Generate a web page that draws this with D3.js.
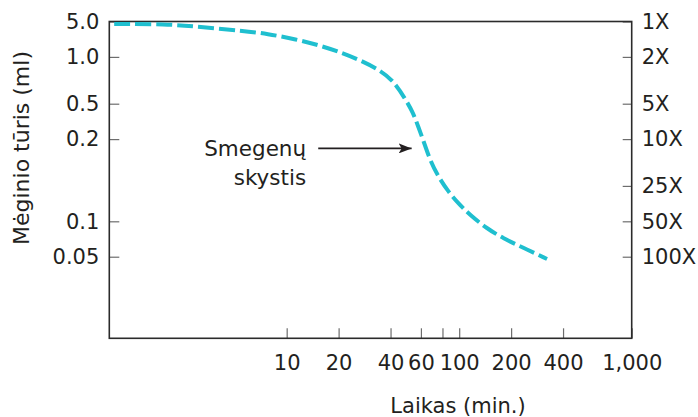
<!DOCTYPE html>
<html>
<head>
<meta charset="utf-8">
<script src="https://cdn.jsdelivr.net/npm/d3@7"></script>
<style>
  html, body { margin: 0; padding: 0; background: #fff; }
  svg { display: block; }
  text { font-family: "DejaVu Sans", Verdana, sans-serif; fill: #231f20; }
</style>
</head>
<body>
<svg id="chart" width="698" height="417"></svg>
<script>
// ---- data ----
// time (min) along the curve
const timeMin = [1, 2, 3.1, 5.6, 7.7, 11.4, 15.6, 20.4, 26.6, 34.7, 41.5, 48.5, 54.2, 57.9, 61.9, 67.7, 75.7, 86.5, 98.9, 115.5, 144, 180, 235, 323];
// concentration factor (right axis, X)
const factor = [1.05, 1.05, 1.11, 1.2, 1.27, 1.42, 1.6, 1.82, 2.13, 2.59, 3.19, 4.5, 6.0, 7.85, 10.2, 15.1, 20.9, 28, 35.2, 44.2, 57.3, 69.8, 83.9, 104.6];

const xTickValues = [10, 20, 40, 60, 80, 100, 200, 400, 1000];
const xTickLabels = ["10", "20", "40", "60", "", "100", "200", "400", "1,000"];
const leftTickValues = [1, 2, 5, 10, 50, 100];
const leftTickLabels = ["5.0", "1.0", "0.5", "0.2", "0.1", "0.05"];
const rightTickValues = [1, 2, 5, 10, 25, 50, 100];
const rightTickLabels = ["1X", "2X", "5X", "10X", "25X", "50X", "100X"];

const xTitle = "Laikas (min.)";
const yTitle = "Mėginio tūris (ml)";
const annotationLines = ["Smegenų", "skystis"];
const annotationTip = { t: 53, f: 12 };

// ---- layout ----
const margin = { left: 109.3, top: 21.5 };
const W = 522.4, H = 316.8;
const svg = d3.select("#chart");
const g = svg.append("g").attr("transform", `translate(${margin.left},${margin.top})`);

const x = d3.scaleLog().domain([0.937, 1000]).range([0, W]);
const y = d3.scaleLog().domain([1, 494]).range([0, H]);

const fs = 21;

// axes
const bottomAxis = d3.axisBottom(x)
  .tickValues(xTickValues)
  .tickFormat((d, i) => xTickLabels[i])
  .tickSizeInner(-10).tickSizeOuter(0).tickPadding(17);
const leftAxis = d3.axisLeft(y)
  .tickValues(leftTickValues)
  .tickFormat((d, i) => leftTickLabels[i])
  .tickSizeInner(-10).tickSizeOuter(0).tickPadding(10);
const rightAxis = d3.axisRight(y)
  .tickValues(rightTickValues)
  .tickFormat((d, i) => rightTickLabels[i])
  .tickSizeInner(-9).tickSizeOuter(0).tickPadding(10);

function styleAxis(sel) {
  sel.select(".domain").remove();
  sel.selectAll(".tick line").attr("stroke", "#6d6d6d").attr("stroke-width", 1.2);
  sel.selectAll(".tick text").attr("font-size", fs).style("font-family", '"DejaVu Sans", Verdana, sans-serif').attr("fill", "#231f20");
}

g.append("g").attr("transform", `translate(0,${H})`).call(bottomAxis).call(styleAxis);
g.append("g").call(leftAxis).call(styleAxis);
g.append("g").attr("transform", `translate(${W},0)`).call(rightAxis).call(styleAxis);

// frame
g.append("rect").attr("x", 0).attr("y", 0).attr("width", W).attr("height", H)
  .attr("fill", "none").attr("stroke", "#2b2b2b").attr("stroke-width", 1.6);

// curve
const pts = timeMin.map((t, i) => [t, factor[i]]);
const line = d3.line().x(d => x(d[0])).y(d => y(d[1])).curve(d3.curveBasis);
g.append("path").datum(pts).attr("d", line)
  .attr("fill", "none").attr("stroke", "#1fbfcf").attr("stroke-width", 4)
  .attr("stroke-dasharray", "16,5");

// annotation
const tipX = x(annotationTip.t), tipY = y(annotationTip.f);
svg.append("defs").append("marker").attr("id", "arr")
  .attr("viewBox", "0 0 13 10").attr("refX", 13).attr("refY", 5)
  .attr("markerWidth", 13).attr("markerHeight", 10).attr("markerUnits", "userSpaceOnUse")
  .attr("orient", "auto")
  .append("path").attr("d", "M0,0 L13,5 L0,10 L3,5 Z").attr("fill", "#231f20");
g.append("line").attr("x1", tipX - 93.4).attr("x2", tipX).attr("y1", tipY).attr("y2", tipY)
  .attr("stroke", "#231f20").attr("stroke-width", 1.6).attr("marker-end", "url(#arr)");
const ann = g.append("text").attr("text-anchor", "end").attr("font-size", fs + 0.5);
annotationLines.forEach((s, i) => {
  ann.append("tspan").attr("x", tipX - 105.5).attr("y", tipY + 7.5 + i * 29.5).text(s);
});

// titles
svg.append("text").attr("x", 458).attr("y", 412.7).attr("text-anchor", "middle")
  .attr("font-size", fs).text(xTitle);
svg.append("text").attr("transform", "translate(29,148) rotate(-90)")
  .attr("text-anchor", "middle").attr("font-size", fs + 1).text(yTitle);
</script>
</body>
</html>
